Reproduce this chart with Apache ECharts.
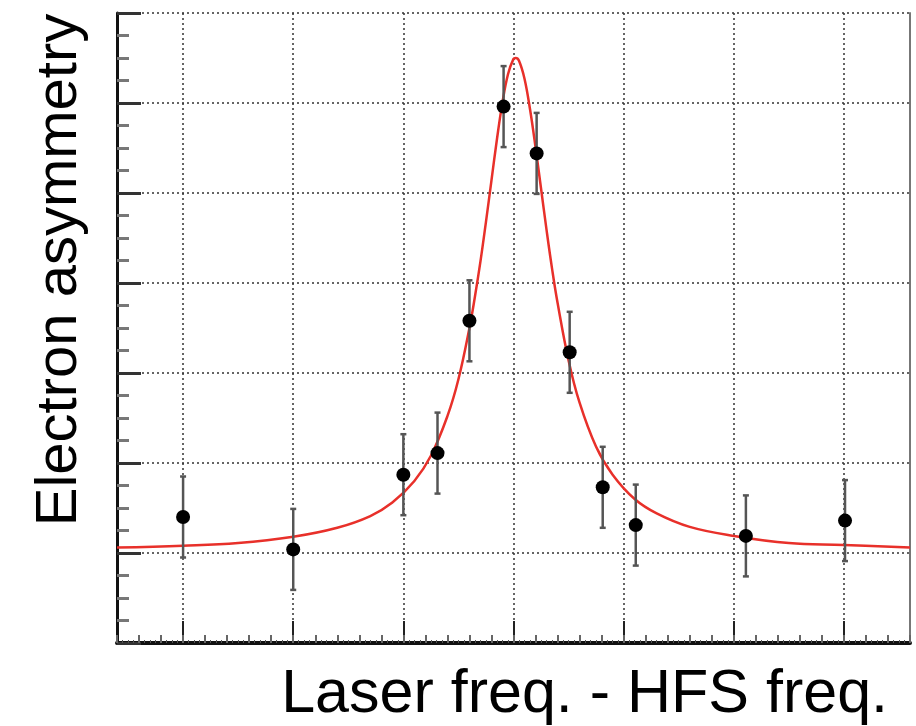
<!DOCTYPE html>
<html>
<head>
<meta charset="utf-8">
<script src="https://cdn.jsdelivr.net/npm/echarts@6/dist/echarts.min.js"></script>
<style>
  html, body { margin: 0; padding: 0; background: #fff; }
  #chart { width: 916px; height: 726px; }
</style>
</head>
<body>
<div id="chart"></div>
<script>
// measured points (laser freq - HFS freq, arbitrary asymmetry units)
var freqs   = [-300, -200, -100, -69, -40, -9, 21, 51, 81, 111, 211, 301];
var asym    = [1.40, 1.04, 1.87, 2.11, 3.58, 5.96, 5.44, 3.23, 1.73, 1.31, 1.19, 1.36];
var asymErr = [0.45, 0.45, 0.45, 0.45, 0.45, 0.45, 0.45, 0.45, 0.45, 0.45, 0.45, 0.45];

// fitted curve
var fitFreqs = [-360, -300, -250, -200, -160, -130, -110, -90, -75, -60, -50, -40, -35, -30, -25, -20, -15, -10, -5, 0, 2, 5, 10, 15, 20, 25, 30, 35, 40, 50, 60, 75, 90, 110, 130, 160, 200, 250, 300, 360];
var fitAsym  = [1.06, 1.08, 1.11, 1.18, 1.28, 1.41, 1.56, 1.80, 2.08, 2.52, 2.93, 3.50, 3.85, 4.24, 4.68, 5.14, 5.60, 6.01, 6.32, 6.49, 6.50, 6.47, 6.27, 5.93, 5.51, 5.05, 4.59, 4.16, 3.78, 3.14, 2.67, 2.18, 1.87, 1.60, 1.44, 1.29, 1.19, 1.11, 1.09, 1.06];

// major tick positions on the frequency axis
var xMajor = [-300, -200, -100, 0, 100, 200, 300];

var xMin = -360, xMax = 360;
var yMin = 0, yMax = 7;

var points = freqs.map(function (f, i) { return [f, asym[i]]; });
var bars = freqs.map(function (f, i) { return [f, asym[i] - asymErr[i], asym[i] + asymErr[i]]; });
var fit = fitFreqs.map(function (f, i) { return [f, fitAsym[i]]; });

var chart = echarts.init(document.getElementById('chart'));

var gridDots = { color: '#333', width: 1.5, type: [2, 3] };

var option = {
  backgroundColor: '#fff',
  animation: false,
  grid: { left: 117, right: 6, top: 13, bottom: 83 },
  xAxis: [{
    // major ticks + vertical grid
    type: 'value',
    min: xMin,
    max: xMax,
    interval: 20,
    axisLine: { onZero: false, lineStyle: { color: '#111', width: 4 } },
    axisTick: { inside: true, length: 22, customValues: xMajor, lineStyle: { color: '#222', width: 2 } },
    axisLabel: { show: false },
    splitLine: { show: true, lineStyle: gridDots }
  }, {
    // small ticks every 20 (and 5)
    type: 'value',
    position: 'bottom',
    min: xMin,
    max: xMax,
    interval: 20,
    axisLine: { show: false, onZero: false },
    axisTick: { inside: true, length: 8, lineStyle: { color: '#666', width: 2 } },
    minorTick: { show: true, splitNumber: 4, length: 3, lineStyle: { color: '#555', width: 1 } },
    axisLabel: { show: false },
    splitLine: { show: false }
  }],
  yAxis: [{
    type: 'value',
    min: yMin,
    max: yMax,
    interval: 1,
    axisLine: { show: true, onZero: false, lineStyle: { color: '#111', width: 3 } },
    axisTick: { inside: true, length: 24, lineStyle: { color: '#333', width: 3 } },
    minorTick: { show: true, splitNumber: 4, length: 12, lineStyle: { color: '#777', width: 3 } },
    axisLabel: { show: false },
    splitLine: { show: true, lineStyle: gridDots }
  }, {
    type: 'value',
    position: 'right',
    min: yMin,
    max: yMax,
    axisLine: { show: true, onZero: false, lineStyle: { color: '#777', width: 2 } },
    axisTick: { show: false },
    axisLabel: { show: false },
    splitLine: { show: false }
  }],
  graphic: [{
    type: 'text',
    x: 60,
    y: 270,
    rotation: Math.PI / 2,
    style: {
      text: 'Electron asymmetry',
      font: '58px "Liberation Sans", Arial, sans-serif',
      fill: '#000',
      align: 'center',
      verticalAlign: 'middle'
    }
  }, {
    type: 'text',
    right: 28,
    bottom: 0,
    style: {
      text: 'Laser freq. - HFS freq.',
      font: '61px "Liberation Sans", Arial, sans-serif',
      fill: '#000'
    }
  }],
  series: [{
    name: 'fit',
    type: 'line',
    data: fit,
    showSymbol: false,
    smooth: 0.4,
    lineStyle: { color: '#e8302a', width: 2.5 },
    z: 3
  }, {
    name: 'errors',
    type: 'custom',
    data: bars,
    renderItem: function (params, api) {
      var x = api.value(0);
      var lo = api.coord([x, api.value(1)]);
      var hi = api.coord([x, api.value(2)]);
      var cap = 3;
      var st = { stroke: '#555', lineWidth: 2.5 };
      return {
        type: 'group',
        children: [
          { type: 'line', shape: { x1: lo[0], y1: lo[1], x2: hi[0], y2: hi[1] }, style: st },
          { type: 'line', shape: { x1: lo[0] - cap, y1: lo[1], x2: lo[0] + cap, y2: lo[1] }, style: st },
          { type: 'line', shape: { x1: hi[0] - cap, y1: hi[1], x2: hi[0] + cap, y2: hi[1] }, style: st }
        ]
      };
    },
    z: 4
  }, {
    name: 'data',
    type: 'scatter',
    data: points,
    symbol: 'circle',
    symbolSize: 14,
    itemStyle: { color: '#000', opacity: 1 },
    z: 5
  }]
};

chart.setOption(option);
</script>
</body>
</html>
